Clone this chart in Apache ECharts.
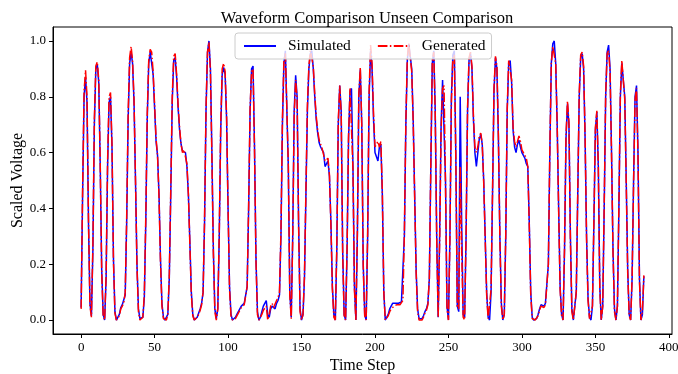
<!DOCTYPE html>
<html>
<head>
<meta charset="utf-8">
<script src="https://cdn.jsdelivr.net/npm/echarts@6/dist/echarts.min.js"></script>
<style>
html,body{margin:0;padding:0;background:#fff;}
#chart{width:678px;height:374px;}
</style>
</head>
<body>
<div id="chart"></div>
<script>
var chartTitle = 'Waveform Comparison Unseen Comparison';
var xLabel = 'Time Step';
var yLabel = 'Scaled Voltage';
var seriesNames = ['Simulated', 'Generated'];
var xTicks = [0, 50, 100, 150, 200, 250, 300, 350, 400];
var yTicks = [0, 0.2, 0.4, 0.6, 0.8, 1.0];

var simulated = [
0.045,0.45,0.80,0.87,0.78,0.35,0.06,0.015,0.25,0.70,
0.90,0.915,0.85,0.55,0.18,0.02,0.0,0.15,0.55,0.78,
0.80,0.62,0.22,0.03,0.0,0.005,0.02,0.045,0.055,0.06,
0.09,0.35,0.72,0.92,0.96,0.92,0.78,0.5,0.2,0.04,
0.005,0.0,0.01,0.08,0.35,0.72,0.92,0.96,0.955,0.88,
0.76,0.64,0.59,0.45,0.22,0.06,0.01,0.0,0.0,0.02,
0.15,0.45,0.78,0.93,0.94,0.87,0.76,0.68,0.63,0.605,
0.61,0.60,0.55,0.45,0.28,0.10,0.02,0.0,0.0,0.01,
0.025,0.04,0.06,0.10,0.35,0.75,0.96,1.0,0.90,0.60,
0.25,0.04,0.005,0.04,0.30,0.68,0.88,0.905,0.88,0.72,
0.40,0.12,0.02,0.0,0.003,0.01,0.02,0.03,0.04,0.05,
0.055,0.06,0.065,0.12,0.40,0.75,0.90,0.91,0.62,0.22,
0.03,0.0,0.01,0.03,0.05,0.06,0.07,0.02,0.01,0.04,
0.05,0.05,0.04,0.06,0.07,0.09,0.30,0.70,0.92,0.965,
0.96,0.55,0.10,0.01,0.30,0.75,0.877,0.80,0.35,0.04,
0.0,0.02,0.15,0.45,0.75,0.90,0.955,0.965,0.90,0.80,
0.72,0.67,0.635,0.62,0.61,0.60,0.55,0.56,0.57,0.515,
0.35,0.12,0.02,0.0,0.25,0.70,0.84,0.75,0.25,0.02,
0.0,0.25,0.65,0.82,0.83,0.55,0.12,0.0,0.30,0.80,
0.898,0.70,0.20,0.02,0.0,0.30,0.80,0.965,0.90,0.72,
0.60,0.60,0.57,0.62,0.63,0.45,0.10,0.0,0.005,0.02,
0.04,0.05,0.06,0.06,0.06,0.065,0.06,0.065,0.065,0.07,
0.30,0.70,0.93,0.99,0.995,0.90,0.72,0.45,0.18,0.04,
0.005,0.0,0.005,0.015,0.03,0.04,0.06,0.15,0.55,0.92,
0.965,0.75,0.30,0.01,0.30,0.70,0.86,0.866,0.50,0.05,
0.0,0.30,0.80,0.95,0.965,0.60,0.05,0.03,0.80,0.35,
0.02,0.01,0.30,0.75,0.93,0.955,0.90,0.72,0.60,0.55,
0.60,0.65,0.665,0.63,0.50,0.30,0.10,0.01,0.0,0.10,
0.45,0.82,0.94,0.90,0.65,0.30,0.06,0.0,0.02,0.30,
0.75,0.92,0.93,0.85,0.68,0.62,0.60,0.63,0.645,0.62,
0.60,0.60,0.58,0.56,0.55,0.35,0.10,0.01,0.0,0.0,
0.005,0.02,0.04,0.055,0.05,0.05,0.06,0.065,0.20,0.60,
0.92,0.99,1.0,0.92,0.70,0.40,0.12,0.02,0.0,0.25,
0.65,0.775,0.70,0.30,0.04,0.0,0.005,0.10,0.45,0.80,
0.94,0.955,0.90,0.65,0.30,0.08,0.01,0.0,0.05,0.35,
0.68,0.745,0.55,0.12,0.0,0.05,0.40,0.80,0.96,0.985,
0.90,0.60,0.25,0.04,0.0,0.05,0.40,0.80,0.92,0.925,
0.80,0.50,0.18,0.02,0.0,0.15,0.50,0.80,0.84,0.60,
0.15,0.0,0.02,0.157
];

var generated = [
0.04,0.47,0.82,0.895,0.80,0.36,0.05,0.01,0.27,0.72,
0.91,0.925,0.86,0.56,0.17,0.015,0.0,0.16,0.57,0.80,
0.815,0.63,0.21,0.025,0.0,0.0,0.015,0.04,0.05,0.06,
0.10,0.37,0.74,0.94,0.98,0.93,0.79,0.5,0.19,0.03,
0.0,0.0,0.01,0.09,0.37,0.74,0.93,0.97,0.96,0.89,
0.77,0.65,0.59,0.44,0.21,0.05,0.005,0.0,0.0,0.02,
0.16,0.47,0.80,0.945,0.955,0.88,0.77,0.69,0.63,0.60,
0.61,0.605,0.56,0.45,0.27,0.09,0.015,0.0,0.0,0.01,
0.02,0.035,0.055,0.10,0.36,0.76,0.96,0.995,0.89,0.58,
0.24,0.03,0.0,0.04,0.31,0.70,0.90,0.92,0.89,0.73,
0.40,0.11,0.015,0.0,0.0,0.005,0.015,0.025,0.035,0.045,
0.05,0.055,0.06,0.12,0.41,0.76,0.89,0.90,0.61,0.21,
0.02,0.0,0.005,0.02,0.035,0.04,0.05,0.0,0.02,0.05,
0.06,0.045,0.05,0.07,0.08,0.10,0.32,0.72,0.93,0.955,
0.95,0.56,0.09,0.005,0.29,0.73,0.86,0.79,0.34,0.03,
0.0,0.02,0.16,0.47,0.77,0.91,0.965,0.97,0.91,0.81,
0.73,0.68,0.645,0.63,0.615,0.61,0.57,0.565,0.58,0.52,
0.34,0.11,0.01,0.0,0.26,0.71,0.84,0.74,0.24,0.015,
0.0,0.26,0.66,0.83,0.835,0.54,0.11,0.0,0.31,0.81,
0.905,0.70,0.19,0.015,0.0,0.31,0.82,0.985,0.92,0.74,
0.62,0.62,0.64,0.62,0.64,0.46,0.10,0.0,0.0,0.015,
0.03,0.04,0.045,0.05,0.05,0.055,0.05,0.055,0.06,0.07,
0.31,0.71,0.94,0.99,0.99,0.89,0.71,0.44,0.17,0.03,
0.0,0.0,0.0,0.01,0.025,0.035,0.055,0.15,0.56,0.93,
0.96,0.74,0.29,0.01,0.28,0.68,0.83,0.84,0.48,0.04,
0.0,0.29,0.78,0.94,0.95,0.58,0.05,0.04,0.55,0.25,
0.01,0.0,0.31,0.76,0.94,0.96,0.91,0.73,0.62,0.60,
0.62,0.66,0.67,0.63,0.49,0.29,0.09,0.005,0.0,0.11,
0.46,0.83,0.945,0.91,0.66,0.29,0.05,0.0,0.02,0.31,
0.76,0.93,0.935,0.86,0.69,0.64,0.62,0.64,0.66,0.64,
0.61,0.60,0.59,0.58,0.55,0.34,0.09,0.005,0.0,0.0,
0.0,0.015,0.035,0.05,0.045,0.045,0.055,0.06,0.20,0.61,
0.92,0.98,0.985,0.92,0.70,0.39,0.11,0.015,0.0,0.26,
0.66,0.785,0.71,0.29,0.03,0.0,0.0,0.10,0.46,0.81,
0.95,0.96,0.91,0.66,0.29,0.07,0.005,0.0,0.05,0.36,
0.69,0.75,0.55,0.11,0.0,0.05,0.41,0.81,0.955,0.965,
0.89,0.59,0.24,0.03,0.0,0.05,0.41,0.81,0.93,0.93,
0.79,0.49,0.17,0.015,0.0,0.15,0.49,0.79,0.83,0.59,
0.14,0.0,0.03,0.16
];

function toPairs(arr){ return arr.map(function(v,i){ return [i, v]; }); }

var FONT = '"Liberation Serif", "DejaVu Serif", serif';
var chart = echarts.init(document.getElementById('chart'), null, {renderer:'canvas'});
chart.setOption({
  animation: false,
  backgroundColor: '#fff',
  title: {
    text: chartTitle,
    left: 362, top: 5, textAlign: 'center',
    textStyle: {fontFamily: FONT, fontSize: 16.5, fontWeight: 'normal', color: '#000'}
  },
  legend: {
    left: 235, top: 33,
    padding: [5, 6, 5, 8],
    itemGap: 26, itemWidth: 32, itemHeight: 12,
    borderColor: '#cccccc', borderWidth: 1, borderRadius: 3,
    backgroundColor: 'rgba(255,255,255,0.8)',
    itemStyle: {opacity: 0},
    textStyle: {fontFamily: FONT, fontSize: 15.5, color: '#000', padding: [0, 0, 0, 7]},
    data: seriesNames
  },
  grid: {
    left: 53, right: 6, top: 27, bottom: 40,
    containLabel: false, outerBoundsMode: 'none',
    show: true, borderColor: '#000', borderWidth: 1, backgroundColor: 'transparent'
  },
  xAxis: {
    type: 'value', min: -19.15, max: 402.15,
    name: xLabel, nameLocation: 'middle', nameGap: 24, nameMoveOverlap: false,
    nameTextStyle: {fontFamily: FONT, fontSize: 16, color: '#000'},
    axisLine: {show: true, onZero: false, lineStyle: {color: '#000', width: 1}},
    axisTick: {show: true, length: 4, inside: false, customValues: xTicks, lineStyle: {color: '#000'}},
    axisLabel: {customValues: xTicks, margin: 7, fontFamily: FONT, fontSize: 13, color: '#000',
      hideOverlap: false, formatter: function(v){ return String(v); }},
    splitLine: {show: false}
  },
  yAxis: {
    type: 'value', min: -0.05, max: 1.05,
    name: yLabel, nameLocation: 'middle', nameGap: 27, nameRotate: 90, nameMoveOverlap: false,
    nameTextStyle: {fontFamily: FONT, fontSize: 16, color: '#000'},
    axisLine: {show: true, onZero: false, lineStyle: {color: '#000', width: 1}},
    axisTick: {show: true, length: 4, inside: false, customValues: yTicks, lineStyle: {color: '#000'}},
    axisLabel: {customValues: yTicks, margin: 7, fontFamily: FONT, fontSize: 13, color: '#000',
      formatter: function(v){ return Number(v).toFixed(1); }},
    splitLine: {show: false}
  },
  series: [
    {
      name: seriesNames[0], type: 'line', data: toPairs(simulated),
      symbol: 'none', showSymbol: false, smooth: false,
      lineStyle: {color: '#0000ff', width: 1.5},
      itemStyle: {color: '#0000ff'}, z: 2
    },
    {
      name: seriesNames[1], type: 'line', data: toPairs(generated),
      symbol: 'none', showSymbol: false, smooth: false,
      lineStyle: {color: '#ff0000', width: 1.5, type: [9.6, 2.4, 1.5, 2.4]},
      itemStyle: {color: '#ff0000'}, z: 3
    }
  ]
});
</script>
</body>
</html>
